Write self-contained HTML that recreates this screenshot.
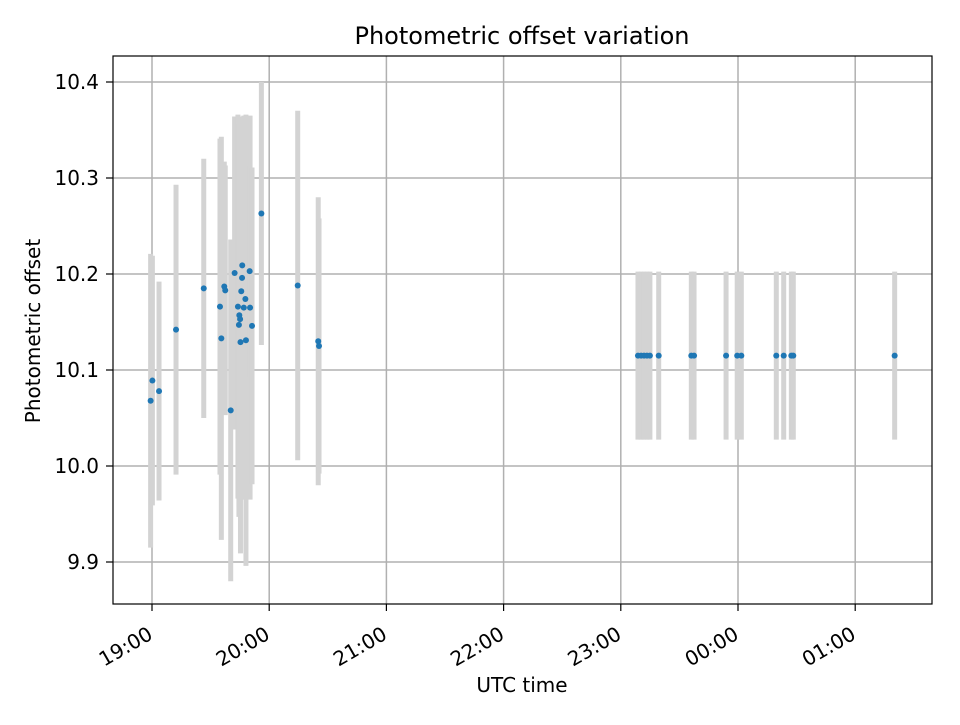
<!DOCTYPE html>
<html><head><meta charset="utf-8"><style>
body{margin:0;background:#fff;}
svg text{font-family:"DejaVu Sans","Liberation Sans",sans-serif;fill:#000;}
</style></head><body>
<svg id="chart" width="960" height="720" xmlns="http://www.w3.org/2000/svg">
<rect x="0" y="0" width="960" height="720" fill="#fff"/>
<g id="grid"></g>
<g id="bars"></g>
<g id="pts"></g>
<rect x="113" y="56" width="819" height="548" fill="none" stroke="#000" stroke-width="1.2"/>
<g id="ticks"></g>
<text x="522" y="44" text-anchor="middle" font-size="24">Photometric offset variation</text>
<text x="522" y="692" text-anchor="middle" font-size="20">UTC time</text>
<text transform="translate(40,331) rotate(-90)" text-anchor="middle" font-size="20">Photometric offset</text>
</svg>
<script>
// minutes after 19:00 UTC
const times=[-0.7,0.2,3.6,12.3,26.5,34.8,35.5,37.0,37.5,40.3,42.3,44.0,44.5,44.7,45.1,45.3,45.7,46.1,46.2,47.0,47.8,48.1,50.0,50.2,51.2,56.0,74.6,85.1,85.5,
248.8,250.4,251.9,253.4,254.9,259.4,276.1,277.5,293.9,299.6,301.7,319.6,323.4,327.3,328.3,380.2];
const values=[10.068,10.089,10.078,10.142,10.185,10.166,10.133,10.187,10.183,10.058,10.201,10.166,10.147,10.157,10.153,10.129,10.182,10.196,10.209,10.165,10.174,10.131,10.203,10.165,10.146,10.263,10.188,10.130,10.125,
10.115,10.115,10.115,10.115,10.115,10.115,10.115,10.115,10.115,10.115,10.115,10.115,10.115,10.115,10.115,10.115];
const errors=[0.153,0.13,0.114,0.151,0.135,0.175,0.21,0.13,0.13,0.178,0.163,0.2,0.2,0.2,0.2,0.22,0.17,0.155,0.155,0.2,0.19,0.235,0.11,0.2,0.165,0.137,0.182,0.15,0.133,
0.0875,0.0875,0.0875,0.0875,0.0875,0.0875,0.0875,0.0875,0.0875,0.0875,0.0875,0.0875,0.0875,0.0875,0.0875,0.0875];
const xTickLabels=["19:00","20:00","21:00","22:00","23:00","00:00","01:00"];
const yTickLabels=["9.9","10.0","10.1","10.2","10.3","10.4"];
const NS="http://www.w3.org/2000/svg";
function xs(m){return 152+m*117.2/60;}
function ys(v){return 82+(10.4-v)*960;}
function mk(tag,attrs,parent){const e=document.createElementNS(NS,tag);for(const k in attrs)e.setAttribute(k,attrs[k]);document.getElementById(parent).appendChild(e);return e;}
xTickLabels.forEach((l,i)=>{const x=xs(i*60);
 const g=mk('line',{x1:x,x2:x,y1:56,y2:604,stroke:'#b0b0b0','stroke-width':1.5},'grid');
 
 const t=mk('line',{x1:x,x2:x,y1:604,y2:611,stroke:'#000','stroke-width':1.2},'ticks');
 
 const tx=mk('text',{transform:`translate(${x+2},${638}) rotate(-30)`,'text-anchor':'end','font-size':20},'ticks');
 tx.textContent=l;});
yTickLabels.forEach(l=>{const y=ys(parseFloat(l));
 const g=mk('line',{x1:113,x2:932,y1:y,y2:y,stroke:'#b0b0b0','stroke-width':1.5},'grid');
 
 const t=mk('line',{x1:106,x2:113,y1:y,y2:y,stroke:'#000','stroke-width':1.2},'ticks');
 
 const tx=mk('text',{x:99,y:y+7,'text-anchor':'end','font-size':20},'ticks');
 tx.textContent=l;});
times.forEach((m,i)=>{const x=xs(m);
 const b=mk('line',{x1:x,x2:x,y1:ys(values[i]+errors[i]),y2:ys(values[i]-errors[i]),stroke:'#d3d3d3','stroke-width':5},'bars');
 });
times.forEach((m,i)=>{
 const c=mk('circle',{cx:xs(m),cy:ys(values[i]),r:3,fill:'#1f77b4'},'pts');
 });
</script>
</body></html>
